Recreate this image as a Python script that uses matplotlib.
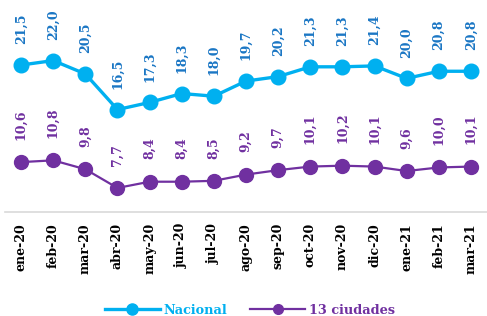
import matplotlib
matplotlib.use("Agg")
import matplotlib.pyplot as plt
from matplotlib.lines import Line2D

months = ["ene-20", "feb-20", "mar-20", "abr-20", "may-20", "jun-20", "jul-20",
          "ago-20", "sep-20", "oct-20", "nov-20", "dic-20", "ene-21", "feb-21", "mar-21"]
nacional = [21.5, 22.0, 20.5, 16.5, 17.3, 18.3, 18.0, 19.7, 20.2, 21.3, 21.3, 21.4, 20.0, 20.8, 20.8]
ciudades = [10.6, 10.8, 9.8, 7.7, 8.4, 8.4, 8.5, 9.2, 9.7, 10.1, 10.2, 10.1, 9.6, 10.0, 10.1]

c_nac = "#00B0F0"
c_nac_lbl = "#1A76C4"
c_ciu = "#7030A0"
font = "DejaVu Serif"

fig = plt.figure(figsize=(4.87, 3.16), dpi=100)
ax = fig.add_axes([5/487, 104/316, 482/487, 212/316])
x = list(range(len(months)))

ax.plot(x, nacional, color=c_nac, lw=2.4, marker="o", ms=10.5, zorder=3)
ax.plot(x, ciudades, color=c_ciu, lw=1.6, marker="o", ms=10, zorder=3)

def fmt(v):
    return f"{v:.1f}".replace(".", ",")

for xi, v in zip(x, nacional):
    ax.annotate(fmt(v), (xi, v), xytext=(0, 15), textcoords="offset points",
                rotation=90, ha="center", va="bottom", color=c_nac_lbl,
                fontsize=9, fontweight="bold", family=font, annotation_clip=False)
for xi, v in zip(x, ciudades):
    ax.annotate(fmt(v), (xi, v), xytext=(0, 16), textcoords="offset points",
                rotation=90, ha="center", va="bottom", color=c_ciu,
                fontsize=9, fontweight="bold", family=font, annotation_clip=False)

ax.set_xlim(-0.5, len(months) - 0.5)
ax.set_ylim(5, 28.8)
ax.set_xticks(x)
ax.set_xticklabels(months, rotation=90, fontsize=9, fontweight="bold", family=font)
ax.tick_params(axis="x", length=0, pad=8)
ax.set_yticks([])
for s in ["top", "right", "left"]:
    ax.spines[s].set_visible(False)
ax.spines["bottom"].set_color("#D9D9D9")
ax.spines["bottom"].set_linewidth(1.2)

handles = [Line2D([], [], color=c_nac, lw=2.4, marker="o", ms=8),
           Line2D([], [], color=c_ciu, lw=1.6, marker="o", ms=7)]
leg = fig.legend(handles, ["Nacional", "13 ciudades"], loc="center",
                 bbox_to_anchor=(250/487, 1 - 310/316), ncol=2, frameon=False,
                 handlelength=4.2, handletextpad=0.3, columnspacing=1.8,
                 prop={"family": font, "weight": "bold", "size": 9.3})
for t, c in zip(leg.get_texts(), [c_nac, c_ciu]):
    t.set_color(c)

fig.savefig("out.png", dpi=100)
